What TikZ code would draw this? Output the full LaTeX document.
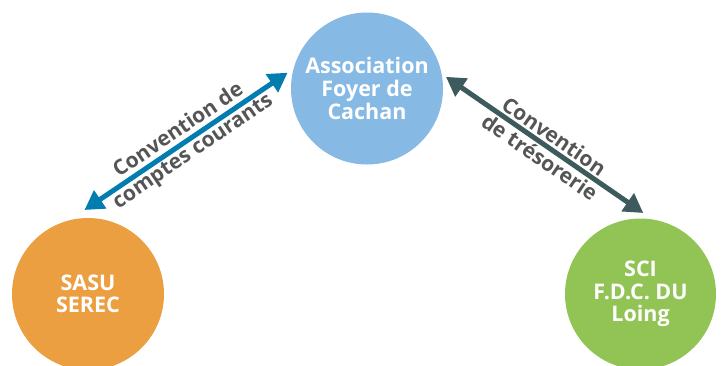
\documentclass[tikz,border=0pt]{standalone}
\usepackage{fontspec}
\setmainfont{Open Sans}
\usetikzlibrary{arrows.meta}

\definecolor{assoblue}{HTML}{86B9E3}
\definecolor{serecorange}{HTML}{EC9F41}
\definecolor{scigreen}{HTML}{92C355}
\definecolor{courantblue}{HTML}{037DAF}
\definecolor{tresodark}{HTML}{3D5A5C}
\definecolor{labelgray}{HTML}{555555}

\tikzset{
    entity/.style={shape=circle, inner sep=0pt, minimum size=152pt, text=white, align=center,
        font=\bfseries\fontsize{21.5}{22.6}\selectfont},
    link/.style={{Triangle[length=19pt, width=21pt]}-{Triangle[length=19pt, width=21pt]}, line width=5pt},
    linklabel/.style={sloped, align=center, text=labelgray, inner sep=0pt,
        font=\bfseries\fontsize{21}{25.5}\selectfont}
}

\begin{document}
\begin{tikzpicture}[x=1pt, y=-1pt]
    \useasboundingbox (0,0) rectangle (722,365);

    \node[entity, fill=assoblue] (asso) at (367, 88.5) {Association\\Foyer de\\Cachan};
    \node[entity, fill=serecorange] (serec) at (88, 294) {SASU\\SEREC};
    \node[entity, fill=scigreen, minimum size=151pt] (sci) at (640.5, 294) {SCI\\F.D.C. DU\\Loing};

    \draw[link, draw=courantblue, fill=courantblue, shorten <=18pt, shorten >=7pt] (serec.104) -- node[linklabel, pos=0.52] {Convention de\\comptes courants} (asso.165.5);
    \draw[link, draw=tresodark, fill=tresodark, shorten <=5pt, shorten >=11pt] (asso.11.3) -- node[linklabel] {Convention\\de trésorerie} (sci.81);
\end{tikzpicture}
\end{document}
